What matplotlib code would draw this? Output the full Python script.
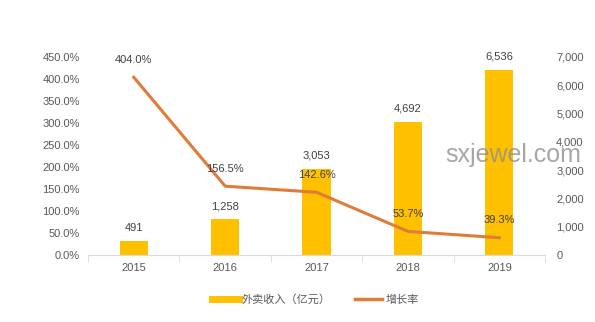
import matplotlib
matplotlib.use("Agg")
import matplotlib.pyplot as plt
from matplotlib.lines import Line2D
import numpy as np

plt.rcParams['font.family'] = ['Liberation Sans', 'Noto Sans CJK SC', 'DejaVu Sans']

years = ["2015", "2016", "2017", "2018", "2019"]
revenue = [491, 1258, 3053, 4692, 6536]  # 亿元
growth = [404.0, 156.5, 142.6, 53.7, 39.3]  # %

bar_color = "#FFC000"
line_color = "#E07B39"
text_color = "#595959"

fig = plt.figure(figsize=(5.95, 3.22), dpi=100)
ax = fig.add_axes([0.148, 0.208, 0.768, 0.615])
ax2 = ax.twinx()

x = np.arange(len(years))

# growth line on the left axis
ax.plot(x, growth, color=line_color, linewidth=2.2, zorder=3)
ax.set_ylim(0, 450)
ax.set_yticks(np.arange(0, 451, 50))
ax.set_yticklabels([f"{v:.1f}%" for v in np.arange(0, 451, 50)])
ax.set_xlim(-0.5, len(years) - 0.5)
ax.set_xticks(x)
ax.set_xticklabels(years)
ax.set_xticks(np.arange(-0.5, len(years), 1), minor=True)
ax.tick_params(axis='x', which='major', length=0, pad=6, labelsize=8, colors=text_color)
ax.tick_params(axis='x', which='minor', length=5, color="#D9D9D9", direction='out')
ax.tick_params(axis='y', length=0, labelsize=8, colors=text_color, pad=6)
for s in ["top", "left", "right"]:
    ax.spines[s].set_visible(False)
ax.spines["bottom"].set_color("#D9D9D9")

# revenue bars on the right axis
ax2.bar(x, revenue, width=0.31, color=bar_color, zorder=1)
ax2.set_ylim(0, 7000)
ax2.set_yticks(np.arange(0, 7001, 1000))
ax2.set_yticklabels([f"{v:,}" for v in range(0, 7001, 1000)])
ax2.tick_params(axis='y', length=0, labelsize=8, colors=text_color, pad=8)
for s in ["top", "left", "right", "bottom"]:
    ax2.spines[s].set_visible(False)

ax.set_zorder(ax2.get_zorder() + 1)
ax.patch.set_visible(False)

for xi, v in zip(x, revenue):
    ax2.annotate(f"{v:,}", (xi, v), xytext=(0, 6), textcoords="offset points",
                 ha="center", va="bottom", fontsize=8, color="#404040")
for xi, v in zip(x, growth):
    ax.annotate(f"{v:.1f}%", (xi, v), xytext=(0, 9), textcoords="offset points",
                ha="center", va="bottom", fontsize=8, color="#404040")

# legend
handles = [Line2D([0], [0], color=bar_color, linewidth=5),
           Line2D([0], [0], color=line_color, linewidth=2.5)]
fig.legend(handles, ["外卖收入（亿元）", "增长率"], loc="center",
           bbox_to_anchor=(0.53, 0.07), ncol=2, frameon=False, fontsize=8,
           labelcolor=text_color, handlelength=2.4, columnspacing=2.2, handletextpad=0.3)

# watermark
fig.text(0.862, 0.52, "sxjewel.com", fontsize=18, color="#909090", alpha=0.8,
         ha="center", va="center")

fig.savefig("out.png", dpi=100, facecolor="white")
